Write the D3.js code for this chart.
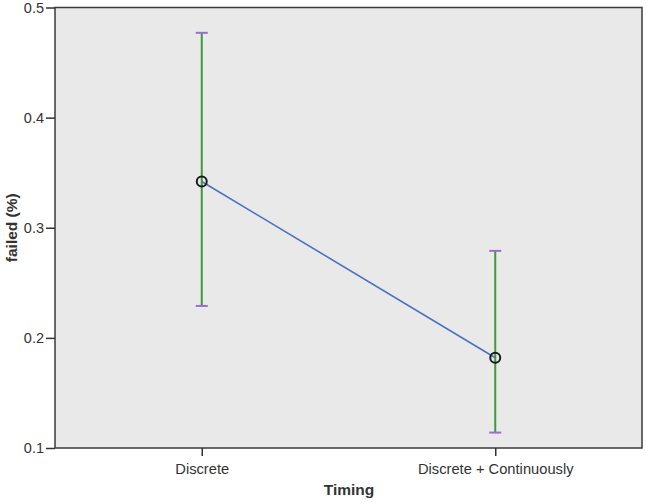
<!DOCTYPE html>
<html>
<head>
<meta charset="utf-8">
<script src="https://cdn.jsdelivr.net/npm/d3@7"></script>
<style>
  body { margin: 0; background: #fff; }
  text { font-family: "Liberation Sans", Arial, sans-serif; }
</style>
</head>
<body>
<svg id="chart" width="646" height="502"></svg>
<script>
(function () {
  "use strict";

  // data
  const categories = ["Discrete", "Discrete + Continuously"]
  const means = [0.342, 0.182]
  const lower = [0.229, 0.114]
  const upper = [0.477, 0.279]
  const yTicks = [0.1, 0.2, 0.3, 0.4, 0.5]

  let svg = d3.select("#chart")
  const left = 55, right = 642, top = 7.5, bottom = 448

  let x = d3.scalePoint().domain(categories).range([left, right]).padding(0.5)
  let y = d3.scaleLinear().domain([0.1, 0.5]).range([bottom, top])

  // plot background
  svg.append("rect")
    .attr("x", left).attr("y", top)
    .attr("width", right - left).attr("height", bottom - top)
    .attr("fill", "#e9e9e9")
    .attr("stroke", "#3a3a3a")
    .attr("stroke-width", 1.5)

  // axes
  let yAxis = svg.append("g")
    .attr("transform", "translate(" + left + ",0)")
    .call(d3.axisLeft(y).tickValues(yTicks).tickSize(9).tickPadding(2).tickFormat(d3.format(".1f")))
  yAxis.select(".domain").remove()
  yAxis.selectAll("line").attr("stroke", "#333").attr("stroke-width", 1.5)
  yAxis.selectAll("text").attr("font-size", 14.5).attr("fill", "#333")
    .attr("font-family", "Liberation Sans, Arial, sans-serif")

  let xAxis = svg.append("g")
    .attr("transform", "translate(0," + bottom + ")")
    .call(d3.axisBottom(x).tickSize(8).tickPadding(8))
  xAxis.select(".domain").remove()
  xAxis.selectAll("line").attr("stroke", "#333").attr("stroke-width", 1.5)
  xAxis.selectAll("text").attr("font-size", 14.7).attr("fill", "#333")
    .attr("font-family", "Liberation Sans, Arial, sans-serif")

  // axis titles
  svg.append("text")
    .attr("x", 349).attr("y", 495)
    .attr("text-anchor", "middle")
    .attr("font-size", 15.5).attr("font-weight", "bold").attr("fill", "#333")
    .text("Timing")

  svg.append("text")
    .attr("transform", "translate(17," + ((top + bottom) / 2) + ") rotate(-90)")
    .attr("text-anchor", "middle")
    .attr("font-size", 15.5).attr("font-weight", "bold").attr("fill", "#333")
    .text("failed (%)")

  let rows = categories.map((c, i) => ({ c: c, m: means[i], lo: lower[i], hi: upper[i] }))

  // error bars
  let eb = svg.append("g")
  eb.selectAll("line.bar").data(rows).enter().append("line")
    .attr("x1", d => x(d.c)).attr("x2", d => x(d.c))
    .attr("y1", d => y(d.lo)).attr("y2", d => y(d.hi))
    .attr("stroke", "#3f9a3a").attr("stroke-width", 2)

  const capW = 6
  for (let key of ["lo", "hi"]) {
    eb.selectAll("line.cap" + key).data(rows).enter().append("line")
      .attr("x1", d => x(d.c) - capW).attr("x2", d => x(d.c) + capW)
      .attr("y1", d => y(d[key])).attr("y2", d => y(d[key]))
      .attr("stroke", "#9a6fc8").attr("stroke-width", 2)
  }

  // mean line
  let line = d3.line().x(d => x(d.c)).y(d => y(d.m))
  svg.append("path")
    .attr("d", line(rows))
    .attr("fill", "none")
    .attr("stroke", "#4a72c0")
    .attr("stroke-width", 1.6)

  // markers
  svg.selectAll("circle.pt").data(rows).enter().append("circle")
    .attr("cx", d => x(d.c)).attr("cy", d => y(d.m))
    .attr("r", 5)
    .attr("fill", "none")
    .attr("stroke", "#1a1a1a")
    .attr("stroke-width", 2)
})();
</script>
</body>
</html>
